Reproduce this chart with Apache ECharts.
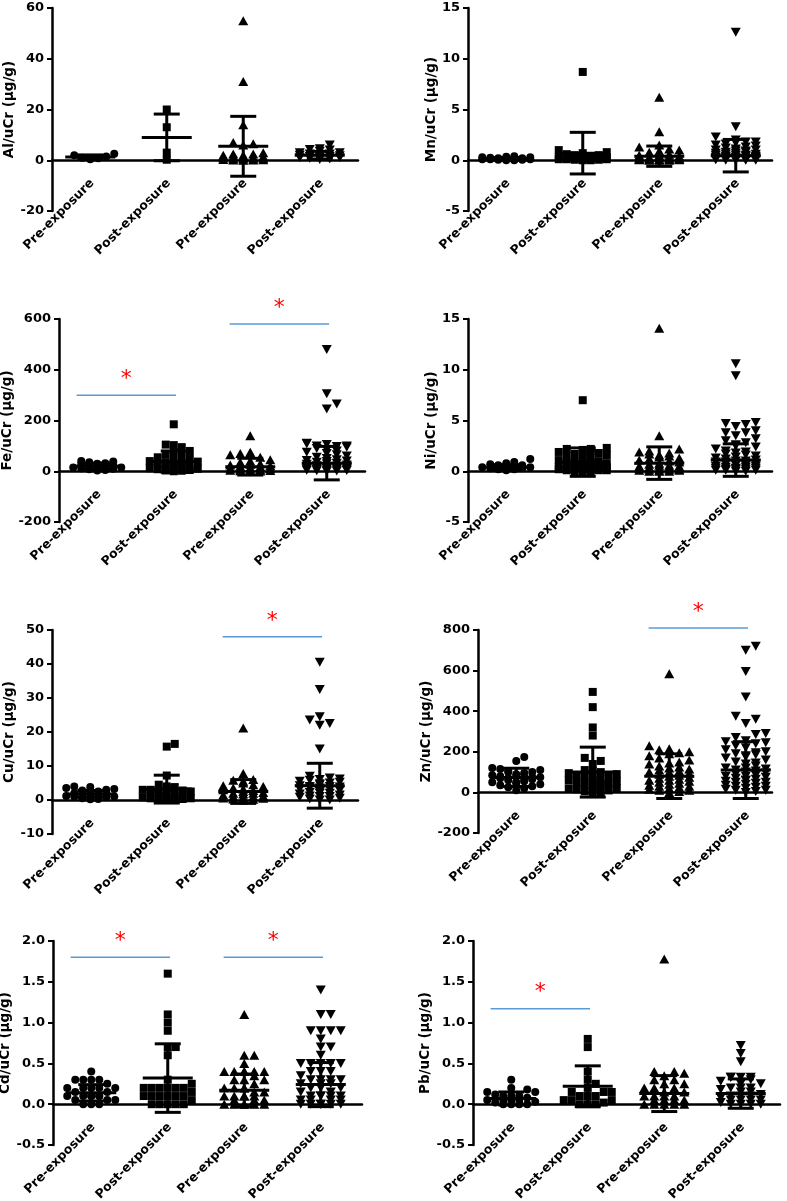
<!DOCTYPE html>
<html><head><meta charset="utf-8">
<script src="https://cdn.jsdelivr.net/npm/echarts@6/dist/echarts.min.js"></script>
<style>html,body{margin:0;padding:0;background:#fff}#c{width:787px;height:1201px}</style>
</head><body><div id="c"></div>
<script>
// ---------------- DATA ----------------
const categories = ['Pre-exposure', 'Post-exposure', 'Pre-exposure', 'Post-exposure'];

const alValues = [
  [2.6, 2.0, 1.5, 1.0, 0.8, 0.4],
  [20, 13, 3, 0.2],
  [55, 31, 14, 7, 6.5, 6, 3, 2.5, 2.5, 2, 2, 1.5, 1.5, 1.2, 1, 1, 0.8, 0.6, 0.5, 0.5, 0.3, 0.2, 0.1, 0.1, 0],
  [6, 4.5, 4.2, 4, 3.5, 3, 3, 2.5, 2.5, 2.2, 2, 1.8, 1.5, 1.5, 1.2, 1, 1, 0.8, 0.5, 0.3]
];
const alMean = [1.3, 9, 5.5, 2.0];
const alSD = [0.8, 9.2, 11.8, 1.5];
const alAxis = [-20, 60, 20];

const mnValues = [
  [0.4, 0.35, 0.3, 0.3, 0.25, 0.2, 0.2, 0.15, 0.15, 0.1, 0.1, 0.1, 0.05, 0.05, 0, 0],
  [8.7, 1.0, 0.8, 0.7, 0.6, 0.5, 0.5, 0.4, 0.4, 0.3, 0.3, 0.3, 0.2, 0.2, 0.2, 0.1, 0.1, 0.1, 0.1, 0.05, 0.05, 0, 0],
  [6.2, 2.8, 1.5, 1.3, 1.1, 1.0, 0.9, 0.8, 0.6, 0.5, 0.5, 0.4, 0.3, 0.3, 0.3, 0.2, 0.2, 0.2, 0.2, 0.1, 0.1, 0.1, 0.1, 0.1, 0.05, 0.05, 0.05, 0, 0, 0],
  [12.6, 3.3, 2.3, 2.0, 1.8, 1.8, 1.7, 1.6, 1.5, 1.4, 1.3, 1.2, 1.1, 1.0, 1.0, 0.9, 0.9, 0.8, 0.8, 0.7, 0.7, 0.6, 0.6, 0.5, 0.5, 0.5, 0.4, 0.4, 0.4, 0.3, 0.3, 0.3, 0.3, 0.2, 0.2, 0.2, 0.2, 0.2, 0.1, 0.1, 0.1, 0.1, 0.1, 0.05, 0.05, 0.05, 0, 0, 0, 0]
];
const mnMean = [0.15, 0.7, 0.4, 0.45];
const mnSD = [0.12, 2.05, 1.0, 1.6];
const mnAxis = [-5, 15, 5];

const feValues = [
  [40, 38, 35, 32, 30, 28, 25, 22, 20, 18, 15, 15, 12, 10, 8, 5, 3],
  [185, 105, 103, 95, 80, 75, 65, 60, 55, 50, 45, 40, 38, 35, 30, 28, 25, 22, 20, 18, 15, 12, 10, 8, 5, 3, 2, 0],
  [140, 75, 72, 70, 65, 55, 45, 40, 35, 30, 28, 25, 22, 20, 18, 15, 12, 10, 8, 6, 5, 4, 3, 2, 1, 0],
  [480, 305, 265, 245, 110, 108, 105, 100, 100, 98, 95, 90, 85, 80, 75, 70, 65, 60, 55, 50, 45, 42, 40, 38, 35, 32, 30, 28, 25, 22, 20, 18, 16, 15, 14, 12, 10, 9, 8, 7, 6, 5, 4, 3, 2, 1, 0]
];
const feMean = [20, 38, 18, 32];
const feSD = [12, 42, 33, 66];
const feAxis = [-200, 600, 200];
const feSig = [[0, 1, 300], [2, 3, 580]];

const niValues = [
  [1.2, 0.9, 0.8, 0.7, 0.6, 0.6, 0.5, 0.5, 0.4, 0.4, 0.3, 0.3, 0.2, 0.2, 0.1],
  [7.0, 2.3, 2.2, 2.2, 2.1, 2.0, 2.0, 1.9, 1.8, 1.7, 1.6, 1.5, 1.4, 1.3, 1.2, 1.1, 1.0, 1.0, 0.9, 0.8, 0.8, 0.7, 0.6, 0.6, 0.5, 0.5, 0.4, 0.4, 0.3, 0.3, 0.3, 0.2, 0.2, 0.2, 0.1, 0.1, 0.1, 0, 0, 0],
  [14.1, 3.5, 2.2, 2.0, 1.9, 1.8, 1.7, 1.6, 1.5, 1.4, 1.3, 1.2, 1.1, 1.0, 0.9, 0.8, 0.7, 0.6, 0.6, 0.5, 0.5, 0.4, 0.4, 0.3, 0.3, 0.2, 0.2, 0.2, 0.1, 0.1, 0.1, 0, 0, 0],
  [10.6, 9.4, 4.8, 4.7, 4.6, 4.4, 4.0, 3.8, 3.8, 3.5, 3.2, 3.0, 2.8, 2.6, 2.5, 2.4, 2.2, 2.0, 1.9, 1.8, 1.7, 1.6, 1.5, 1.4, 1.3, 1.2, 1.1, 1.0, 1.0, 0.9, 0.9, 0.8, 0.8, 0.7, 0.7, 0.6, 0.6, 0.5, 0.5, 0.4, 0.4, 0.3, 0.3, 0.3, 0.2, 0.2, 0.2, 0.1, 0.1, 0.1, 0, 0]
];
const niMean = [0.4, 0.9, 0.8, 1.1];
const niSD = [0.25, 1.4, 1.6, 1.6];
const niAxis = [-5, 15, 5];

const cuValues = [
  [4.0, 3.8, 3.5, 3.2, 3.0, 2.8, 2.5, 2.2, 2.0, 2.0, 1.8, 1.5, 1.5, 1.2, 1.0, 1.0, 0.8, 0.5, 0.3, 0.2],
  [16.5, 15.7, 7.2, 4.5, 4.0, 3.8, 3.5, 3.0, 3.0, 2.8, 2.5, 2.2, 2.0, 2.0, 1.8, 1.5, 1.2, 1.0, 1.0, 0.8, 0.5, 0.5, 0.3, 0.2, 0, 0],
  [21.2, 7.8, 6.0, 5.8, 5.5, 5.0, 4.5, 4.2, 4.0, 3.5, 3.2, 3.0, 2.8, 2.5, 2.2, 2.0, 2.0, 1.8, 1.5, 1.2, 1.0, 1.0, 0.8, 0.6, 0.5, 0.3, 0.2, 0],
  [40.5, 32.5, 24.5, 23.5, 22.5, 22.0, 15.0, 7.0, 6.5, 6.2, 6.0, 5.8, 5.5, 5.2, 5.0, 4.8, 4.5, 4.2, 4.0, 4.0, 3.8, 3.5, 3.5, 3.2, 3.0, 2.8, 2.5, 2.2, 2.0, 2.0, 1.8, 1.5, 1.2, 1.0, 1.0, 0.8, 0.5, 0.3, 0, 0]
];
const cuMean = [1.8, 3.2, 2.5, 4.2];
const cuSD = [1.0, 4.1, 3.5, 6.6];
const cuAxis = [-10, 50, 10];
const cuSig = [[2, 3, 48]];

const znValues = [
  [175, 155, 120, 115, 110, 105, 100, 100, 95, 90, 90, 85, 80, 80, 75, 75, 70, 70, 65, 60, 60, 55, 50, 50, 45, 40, 35, 30, 25, 20, 10],
  [495, 420, 320, 280, 170, 155, 140, 110, 105, 100, 95, 90, 85, 80, 75, 70, 65, 60, 60, 55, 50, 45, 40, 40, 35, 30, 25, 20, 20, 15, 10, 5, 0, 0],
  [585, 230, 215, 210, 200, 195, 190, 180, 170, 160, 150, 145, 140, 130, 125, 120, 115, 110, 105, 100, 100, 95, 90, 85, 80, 75, 70, 65, 60, 60, 55, 50, 45, 40, 35, 30, 30, 25, 20, 15, 10, 10, 5, 0],
  [720, 700, 595, 470, 375, 360, 340, 290, 285, 270, 255, 250, 245, 240, 230, 220, 210, 200, 195, 190, 185, 180, 175, 170, 160, 150, 145, 140, 130, 120, 120, 115, 110, 105, 100, 95, 90, 85, 80, 80, 75, 70, 65, 60, 60, 55, 50, 50, 45, 40, 35, 30, 30, 25, 20, 15, 10, 10, 5, 0]
];
const znMean = [74, 100, 80, 110];
const znSD = [45, 123, 110, 140];
const znAxis = [-200, 800, 200];
const znSig = [[2, 3, 810]];

const cdValues = [
  [0.4, 0.3, 0.3, 0.3, 0.3, 0.25, 0.2, 0.2, 0.2, 0.2, 0.2, 0.15, 0.15, 0.1, 0.1, 0.1, 0.1, 0.1, 0.1, 0.05, 0.05, 0.05, 0, 0, 0],
  [1.6, 1.1, 1.0, 0.9, 0.7, 0.7, 0.6, 0.3, 0.25, 0.2, 0.2, 0.2, 0.2, 0.2, 0.2, 0.15, 0.1, 0.1, 0.1, 0.1, 0.1, 0.1, 0.05, 0, 0, 0, 0, 0],
  [1.1, 0.6, 0.6, 0.5, 0.4, 0.4, 0.4, 0.4, 0.4, 0.4, 0.35, 0.3, 0.3, 0.3, 0.25, 0.2, 0.2, 0.2, 0.2, 0.15, 0.15, 0.1, 0.1, 0.1, 0.1, 0.1, 0.05, 0.05, 0.05, 0, 0, 0, 0, 0, 0],
  [1.4, 1.1, 1.1, 0.9, 0.9, 0.9, 0.9, 0.8, 0.7, 0.7, 0.6, 0.5, 0.5, 0.5, 0.5, 0.5, 0.4, 0.4, 0.4, 0.35, 0.3, 0.3, 0.3, 0.3, 0.25, 0.25, 0.25, 0.2, 0.2, 0.2, 0.15, 0.15, 0.1, 0.1, 0.1, 0.1, 0.1, 0.05, 0.05, 0.05, 0.05, 0, 0, 0, 0, 0, 0]
];
const cdMean = [0.14, 0.32, 0.17, 0.24];
const cdSD = [0.1, 0.42, 0.2, 0.27];
const cdAxis = [-0.5, 2.0, 0.5];
const cdSig = [[0, 1, 1.8], [2, 3, 1.8]];

const pbValues = [
  [0.3, 0.2, 0.18, 0.15, 0.15, 0.12, 0.1, 0.1, 0.1, 0.08, 0.05, 0.05, 0.05, 0.05, 0.03, 0.02, 0, 0, 0, 0],
  [0.8, 0.7, 0.4, 0.3, 0.25, 0.2, 0.15, 0.15, 0.15, 0.1, 0.1, 0.1, 0.05, 0.05, 0.05, 0.02, 0, 0, 0],
  [1.78, 0.4, 0.4, 0.38, 0.35, 0.3, 0.3, 0.25, 0.25, 0.2, 0.2, 0.2, 0.15, 0.15, 0.1, 0.1, 0.1, 0.1, 0.05, 0.05, 0.05, 0.05, 0, 0, 0, 0, 0],
  [0.72, 0.62, 0.52, 0.33, 0.33, 0.33, 0.33, 0.3, 0.28, 0.25, 0.25, 0.2, 0.2, 0.2, 0.18, 0.15, 0.15, 0.12, 0.1, 0.1, 0.1, 0.08, 0.05, 0.05, 0.05, 0.05, 0.02, 0, 0, 0, 0]
];
const pbMean = [0.07, 0.22, 0.13, 0.13];
const pbSD = [0.08, 0.25, 0.22, 0.18];
const pbAxis = [-0.5, 2.0, 0.5];
const pbSig = [[0, 1, 1.17]];

// ---------------- LAYOUT / STYLE ----------------
const FONT = 'DejaVu Sans';
const UNIT = 76.5;           // px per category
const panels = [
  { name: 'Al/uCr (μg/g)', v: alValues, m: alMean, s: alSD, ax: alAxis, sig: [], dec: 0, left: 52, top: 8, width: 306, height: 203, nameX: 10 },
  { name: 'Mn/uCr (μg/g)', v: mnValues, m: mnMean, s: mnSD, ax: mnAxis, sig: [], dec: 0, left: 468, top: 8, width: 304, height: 203, nameX: 428 },
  { name: 'Fe/uCr (μg/g)', v: feValues, m: feMean, s: feSD, ax: feAxis, sig: feSig, dec: 0, left: 59, top: 319, width: 306, height: 203, nameX: 10 },
  { name: 'Ni/uCr (μg/g)', v: niValues, m: niMean, s: niSD, ax: niAxis, sig: [], dec: 0, left: 468, top: 319, width: 304, height: 203, nameX: 428 },
  { name: 'Cu/uCr (μg/g)', v: cuValues, m: cuMean, s: cuSD, ax: cuAxis, sig: cuSig, dec: 0, left: 52, top: 630, width: 306, height: 204, nameX: 10 },
  { name: 'Zn/uCr (μg/g)', v: znValues, m: znMean, s: znSD, ax: znAxis, sig: znSig, dec: 0, left: 478, top: 630, width: 294, height: 203, nameX: 428 },
  { name: 'Cd/uCr (μg/g)', v: cdValues, m: cdMean, s: cdSD, ax: cdAxis, sig: cdSig, dec: 1, left: 53, top: 941, width: 309, height: 204, nameX: 10 },
  { name: 'Pb/uCr (μg/g)', v: pbValues, m: pbMean, s: pbSD, ax: pbAxis, sig: pbSig, dec: 1, left: 473, top: 941, width: 307, height: 204, nameX: 428 }
];
const symbols = [
  { symbol: 'circle', size: [8, 8], rotate: 0 },
  { symbol: 'rect', size: [8, 8], rotate: 0 },
  { symbol: 'triangle', size: [10, 9], rotate: 0 },
  { symbol: 'triangle', size: [10, 9], rotate: 180 }
];

// column-scatter layout (beeswarm) computed in pixel space
function swarm(values, pxPerUnit, w, h, maxOff) {
  const order = values.map((v, i) => i).sort((a, b) => values[a] - values[b]);
  const placed = [];
  const offs = new Array(values.length).fill(0);
  const step = w * 0.5;
  const cands = [0];
  for (let k = 1; k * step <= maxOff; k++) { cands.push(k * step, -k * step); }
  order.forEach(i => {
    const py = values[i] * pxPerUnit;
    let best = 0, bestC = Infinity;
    for (const c of cands) {
      let n = 0;
      for (const p of placed) {
        if (Math.abs(p[0] - c) < w * 0.85 && Math.abs(p[1] - py) < h * 0.85) n++;
      }
      if (n < bestC) { bestC = n; best = c; }
      if (n === 0) break;
    }
    placed.push([best, py]);
    offs[i] = best;
  });
  return offs;
}

const grid = [], xAxis = [], yAxis = [], series = [];
const black = '#000';
panels.forEach((p, i) => {
  const [ymin, ymax, yint] = p.ax;
  const pxPerUnit = p.height / (ymax - ymin);
  grid.push({ left: p.left, top: p.top, width: p.width, height: p.height, containLabel: false, outerBoundsMode: 'none' });
  xAxis.push({
    type: 'value', gridIndex: i, min: -0.5, max: p.width / UNIT - 0.5,
    axisLine: { show: true, onZero: true, lineStyle: { color: black, width: 2.5 } },
    axisTick: { show: false }, splitLine: { show: false }, axisLabel: { show: false }
  });
  yAxis.push({
    type: 'value', gridIndex: i, min: ymin, max: ymax, interval: yint,
    axisLine: { show: true, onZero: false, lineStyle: { color: black, width: 2.5 } },
    axisTick: { show: true, length: 5, lineStyle: { color: black, width: 2 } },
    splitLine: { show: false },
    axisLabel: { formatter: v => v.toFixed(p.dec), margin: 8, fontFamily: FONT, fontWeight: 'bold', fontSize: 13, color: black },
    name: p.name, nameLocation: 'middle', nameGap: p.left - p.nameX - 14,
    nameTextStyle: { fontFamily: FONT, fontWeight: 'bold', fontSize: 13.5, color: black }
  });
  p.v.forEach((vals, g) => {
    const sy = symbols[g];
    const offs = swarm(vals, pxPerUnit, sy.size[0], sy.size[1], 24);
    series.push({
      type: 'scatter', xAxisIndex: i, yAxisIndex: i, symbol: sy.symbol, symbolSize: sy.size,
      symbolRotate: sy.rotate, itemStyle: { color: black, opacity: 1 }, silent: true, z: 2,
      data: vals.map((v, k) => [g + offs[k] / UNIT, v])
    });
  });
  // category labels, attached to the zero line (GraphPad style)
  series.push({
    type: 'custom', xAxisIndex: i, yAxisIndex: i, z: 5, silent: true, clip: false,
    data: categories.map((c, g) => [g, 0]),
    renderItem: (params, api) => {
      const c = api.coord([api.value(0), api.value(1)]);
      return { type: 'text', x: c[0] + 2, y: c[1] + 21, rotation: Math.PI / 4,
        style: { text: categories[params.dataIndex], fill: black, font: 'bold 12.5px "DejaVu Sans"', align: 'right', verticalAlign: 'middle' } };
    }
  });
  // mean ± SD bars
  series.push({
    type: 'custom', xAxisIndex: i, yAxisIndex: i, z: 3, silent: true,
    data: p.m.map((m, g) => [g, m, p.s[g]]),
    renderItem: (params, api) => {
      const g = api.value(0), m = api.value(1), s = api.value(2);
      const c = api.coord([g, m]), t = api.coord([g, m + s]), b = api.coord([g, m - s]);
      const st = { stroke: black, lineWidth: 3 };
      return { type: 'group', children: [
        { type: 'line', shape: { x1: c[0] - 25, y1: c[1], x2: c[0] + 25, y2: c[1] }, style: st },
        { type: 'line', shape: { x1: c[0], y1: t[1], x2: c[0], y2: b[1] }, style: st },
        { type: 'line', shape: { x1: c[0] - 13, y1: t[1], x2: c[0] + 13, y2: t[1] }, style: st },
        { type: 'line', shape: { x1: c[0] - 13, y1: b[1], x2: c[0] + 13, y2: b[1] }, style: st }
      ] };
    }
  });
  if (p.sig.length) {
    series.push({
      type: 'custom', xAxisIndex: i, yAxisIndex: i, z: 4, silent: true, clip: false,
      data: p.sig,
      renderItem: (params, api) => {
        const a = api.value(0), b = api.value(1), y = api.value(2);
        const p1 = api.coord([a - 0.27, y]), p2 = api.coord([b + 0.03, y]);
        return { type: 'group', children: [
          { type: 'line', shape: { x1: p1[0], y1: p1[1], x2: p2[0], y2: p2[1] }, style: { stroke: '#5B9BD5', lineWidth: 1.5 } },
          { type: 'text', x: (p1[0] + p2[0]) / 2, y: p1[1] - 16,
            style: { text: '*', fill: '#FF0000', font: '22px "DejaVu Sans"', align: 'center', verticalAlign: 'middle' } }
        ] };
      }
    });
  }
});

const chart = echarts.init(document.getElementById('c'), null, { renderer: 'canvas' });
chart.setOption({ backgroundColor: '#fff', animation: false, grid, xAxis, yAxis, series });
</script>
</body></html>
